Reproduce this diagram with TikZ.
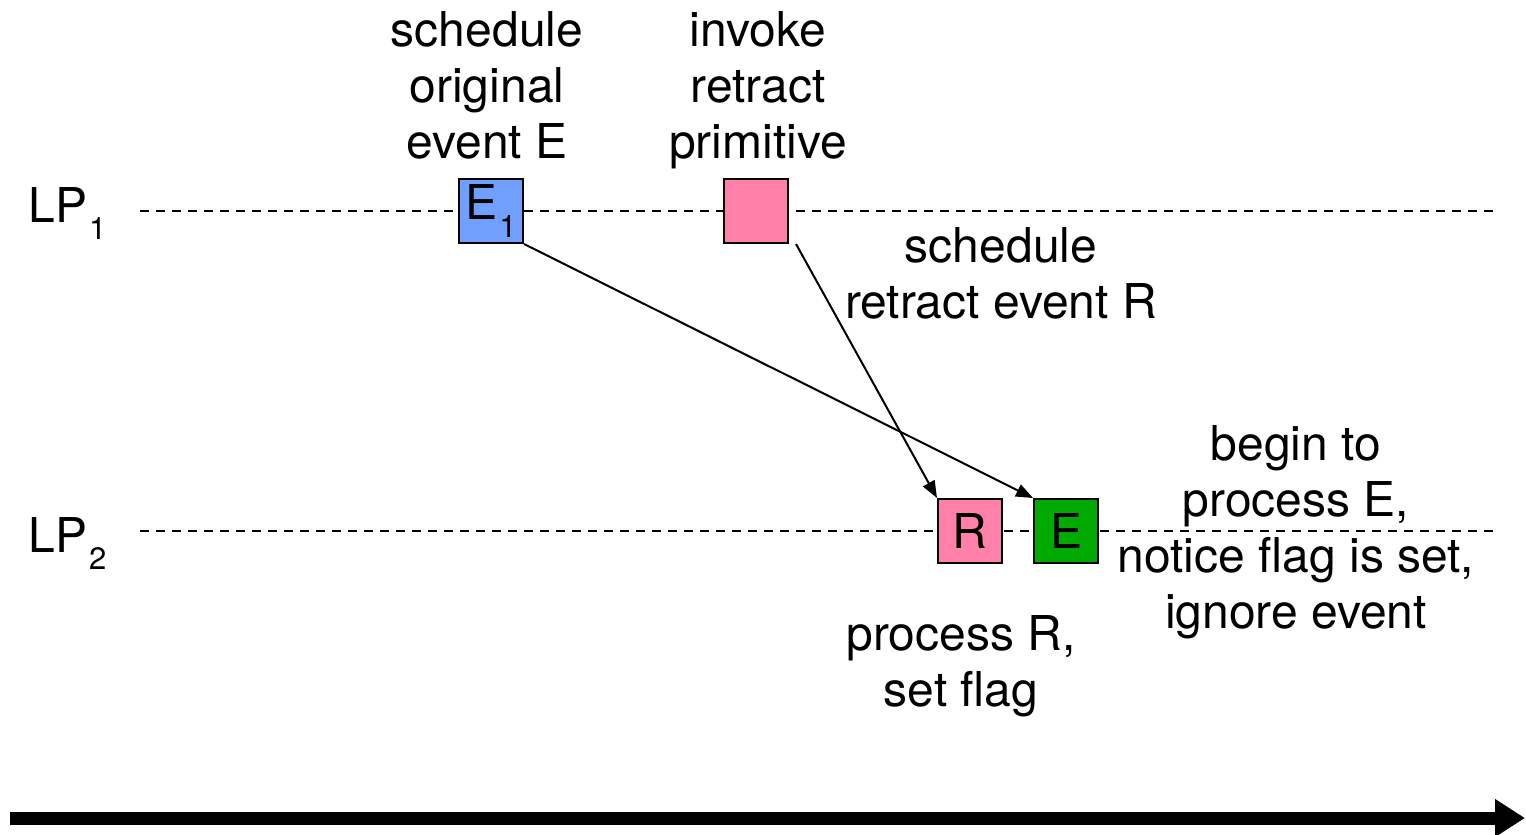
\documentclass[tikz,border=0pt]{standalone}
\usepackage{fontspec}
\setmainfont{TeX Gyre Heros}
\usetikzlibrary{arrows.meta}

\definecolor{evblue}{RGB}{112,160,255}
\definecolor{evpink}{RGB}{255,128,168}
\definecolor{evgreen}{RGB}{0,170,0}

\newcommand{\lpsub}[1]{\kern1pt\raisebox{-0.36em}{\fontsize{15.5}{15.5}\selectfont #1}}

\begin{document}
\begin{tikzpicture}[x=0.5pt,y=-0.5pt,
  every node/.style={font=\fontsize{24}{28}\selectfont},
  event/.style={draw, line width=1pt, minimum size=32pt, inner sep=0pt},
  timeline/.style={dash pattern=on 4.5pt off 3.5pt, line width=1pt},
  msg/.style={-{Triangle[length=8.5pt,width=6.5pt]}, line width=1pt},
  note/.style={align=center, anchor=base, inner sep=0pt}]
  \useasboundingbox (0,0) rectangle (1526,835);

  % processes and their time lines
  \node[anchor=base west, inner sep=0pt] (lp1) at (28,222) {LP\lpsub{1}};
  \node[anchor=base west, inner sep=0pt] (lp2) at (28,552) {LP\lpsub{2}};
  \coordinate (t1s) at (140,211);
  \coordinate (t1e) at (1493,211);
  \coordinate (t2s) at (140,531);
  \coordinate (t2e) at (1493,531);
  \draw[timeline] (t1s) -- (t1e);
  \draw[timeline] (t2s) -- (t2e);

  % events
  \node[event, fill=evblue] (e1) at (491,211) {E\lpsub{1}};
  \node[event, fill=evpink] (ret) at (756,211) {};
  \node[event, fill=evpink] (r) at (970,531) {R};
  \node[event, fill=evgreen] (e) at (1066,531) {E};

  % messages
  \draw[msg] (e1.south east) -- (e.north west);
  \draw[msg] ([xshift=3.5pt]ret.south east) -- (r.north west);

  % notes (anchored at the last line)
  \node[note] (schedE) at (487,158) {schedule\\original\\event E};
  \node[note] (invoke) at (758,158) {invoke\\retract\\primitive};
  \node[note] (schedR) at (1001,318) {schedule\\retract event R};
  \node[note] (procR) at (961,706) {process R,\\set flag};
  \node[note] (procE) at (1296,628) {begin to\\process E,\\notice flag is set,\\ignore event};

  % simulation time
  \coordinate (ts) at (10,818);
  \coordinate (te) at (1525,818);
  \draw[line width=6.5pt, -{Triangle[length=15pt,width=18pt]}] (ts) -- (te);
\end{tikzpicture}
\end{document}
